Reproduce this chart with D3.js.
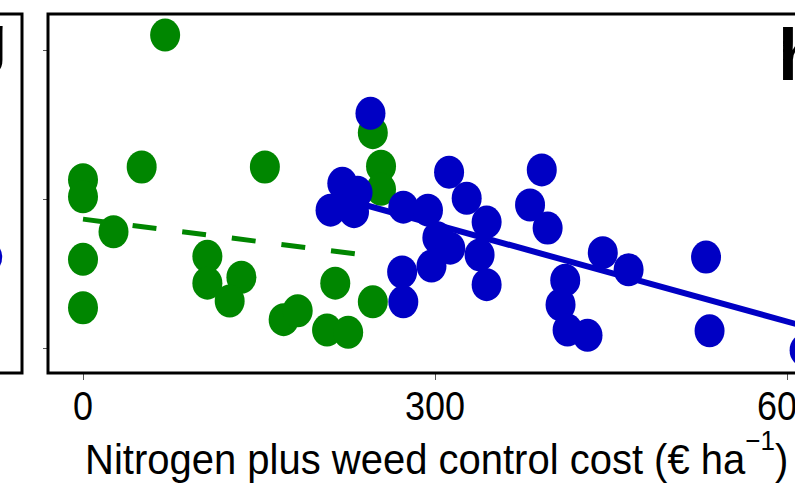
<!DOCTYPE html>
<html>
<head>
<meta charset="utf-8">
<script src="https://cdn.jsdelivr.net/npm/d3@7"></script>
<style>
  html, body { margin: 0; padding: 0; background: #fff; }
  svg { display: block; }
  text { font-family: "Liberation Sans", Arial, sans-serif; fill: #000; }
</style>
</head>
<body>
<svg id="chart" width="795" height="490"></svg>
<script>
// Low-input system (green): cost (€/ha) and response
const greenCost  = [70, 0, 0, 0, 0, 50, 155, 26, 106, 106, 135, 125, 171, 183, 215, 208, 226, 247, 247, 254, 254];
const greenValue = [6.20, 4.26, 4.03, 3.19, 2.54, 4.43, 4.43, 3.56, 3.23, 2.87, 2.95, 2.63, 2.38, 2.50, 2.87, 2.24, 2.21, 2.62, 4.89, 4.44, 4.13];

// Conventional system (blue)
const blueCost  = [245, 221, 234, 211, 231, 273, 294, 312, 327, 344, 302, 313, 297, 272, 273, 338, 344,
                   381, 391, 396, 411, 407, 413, 430, 443, 465, 531, 534, 615];
const blueValue = [5.15, 4.21, 4.09, 3.85, 3.83, 3.89, 3.85, 4.36, 4.01, 3.69, 3.48, 3.34, 3.10, 3.02, 2.62, 3.25, 2.85,
                   3.92, 4.39, 3.61, 2.91, 2.58, 2.24, 2.17, 3.28, 3.05, 3.22, 2.23, 1.97];

// Fitted trends (end points)
const greenFitCost  = [0, 234];
const greenFitValue = [3.73, 3.26];
const blueFitCost   = [215, 615];
const blueFitValue  = [4.03, 2.29];

// Neighbouring panel (g): the one point reaching its right edge
const leftCost  = [607];
const leftValue = [3.22];

// Axes
const xTicks = [0, 300, 600];
const xTickLabels = ["0", "300", "600"];
const yTicks = [2, 4, 6];

const svg = d3.select("#chart");
const GREEN = "#008600";
const BLUE = "#0000c4";
const RX = 15, RY = 16.5;
const SY = 1.12; // vertical text stretch

const x = d3.scaleLinear().domain([0, 600]).range([83, 787]);
const y = d3.scaleLinear().domain([2, 6]).range([348, 50]);
// Panel g uses the same layout, shifted one panel width to the left
const xLeft = d3.scaleLinear().domain([0, 600]).range([83 - 808, 787 - 808]);

const panelTop = 14, panelBottom = 373;

// Panel g (mostly off-canvas)
const gLeft = svg.append("g");
gLeft.append("clipPath").attr("id", "clipLeft")
  .append("rect").attr("x", -800).attr("y", panelTop).attr("width", 822).attr("height", panelBottom - panelTop);
gLeft.append("g").attr("clip-path", "url(#clipLeft)")
  .selectAll("ellipse").data(leftCost).join("ellipse")
  .attr("cx", (d) => xLeft(d)).attr("cy", (d, i) => y(leftValue[i]))
  .attr("rx", RX).attr("ry", RY).attr("fill", BLUE);
gLeft.append("rect")
  .attr("x", -800).attr("y", panelTop).attr("width", 822).attr("height", panelBottom - panelTop)
  .attr("fill", "none").attr("stroke", "#000").attr("stroke-width", 3);
gLeft.append("text")
  .attr("x", 7).attr("y", 61).attr("text-anchor", "end")
  .attr("font-size", 66).attr("font-weight", "bold").text("g");

// Panel h
const gMain = svg.append("g");

// y-axis ticks (unlabelled)
gMain.append("g")
  .attr("transform", "translate(48,0)")
  .call(d3.axisLeft(y).tickValues(yTicks).tickSize(5).tickFormat(""))
  .call((g) => g.select(".domain").remove())
  .call((g) => g.selectAll("line").attr("stroke", "#555").attr("stroke-width", 1));

// x-axis ticks
gMain.append("g")
  .attr("transform", `translate(0,${panelBottom})`)
  .call(d3.axisBottom(x).tickValues(xTicks).tickSize(7).tickFormat(""))
  .call((g) => g.select(".domain").remove())
  .call((g) => g.selectAll("line").attr("stroke", "#555").attr("stroke-width", 1));

gMain.selectAll("text.xtick").data(xTicks).join("text")
  .attr("class", "xtick")
  .attr("transform", (d) => `translate(${x(d)},420) scale(1,${SY})`)
  .attr("text-anchor", "middle").attr("font-size", 36)
  .text((d, i) => xTickLabels[i]);

// x-axis title
const title = gMain.append("text")
  .attr("transform", `translate(85,474) scale(1,1.08)`)
  .attr("font-size", 40);
title.append("tspan").text("Nitrogen plus weed control cost (€ ha");
title.append("tspan").attr("font-size", 26).attr("dy", -22).text("\u22121");
title.append("tspan").attr("dy", 22).text(")");

// trend lines
const line = d3.line().x((d) => x(d[0])).y((d) => y(d[1]));
gMain.append("path")
  .attr("d", line(greenFitCost.map((c, i) => [c, greenFitValue[i]])))
  .attr("fill", "none").attr("stroke", GREEN).attr("stroke-width", 5)
  .attr("stroke-dasharray", "24,26");

// points
gMain.append("g").selectAll("ellipse").data(greenCost).join("ellipse")
  .attr("cx", (d) => x(d)).attr("cy", (d, i) => y(greenValue[i]))
  .attr("rx", RX).attr("ry", RY).attr("fill", GREEN);

gMain.append("path")
  .attr("d", line(blueFitCost.map((c, i) => [c, blueFitValue[i]])))
  .attr("fill", "none").attr("stroke", BLUE).attr("stroke-width", 6);

gMain.append("g").selectAll("ellipse").data(blueCost).join("ellipse")
  .attr("cx", (d) => x(d)).attr("cy", (d, i) => y(blueValue[i]))
  .attr("rx", RX).attr("ry", RY).attr("fill", BLUE);

// frame
gMain.append("rect")
  .attr("x", 48).attr("y", panelTop).attr("width", 800).attr("height", panelBottom - panelTop)
  .attr("fill", "none").attr("stroke", "#000").attr("stroke-width", 3);

gMain.append("text")
  .attr("x", 778).attr("y", 80)
  .attr("font-size", 72).attr("font-weight", "bold").text("h");
</script>
</body>
</html>
